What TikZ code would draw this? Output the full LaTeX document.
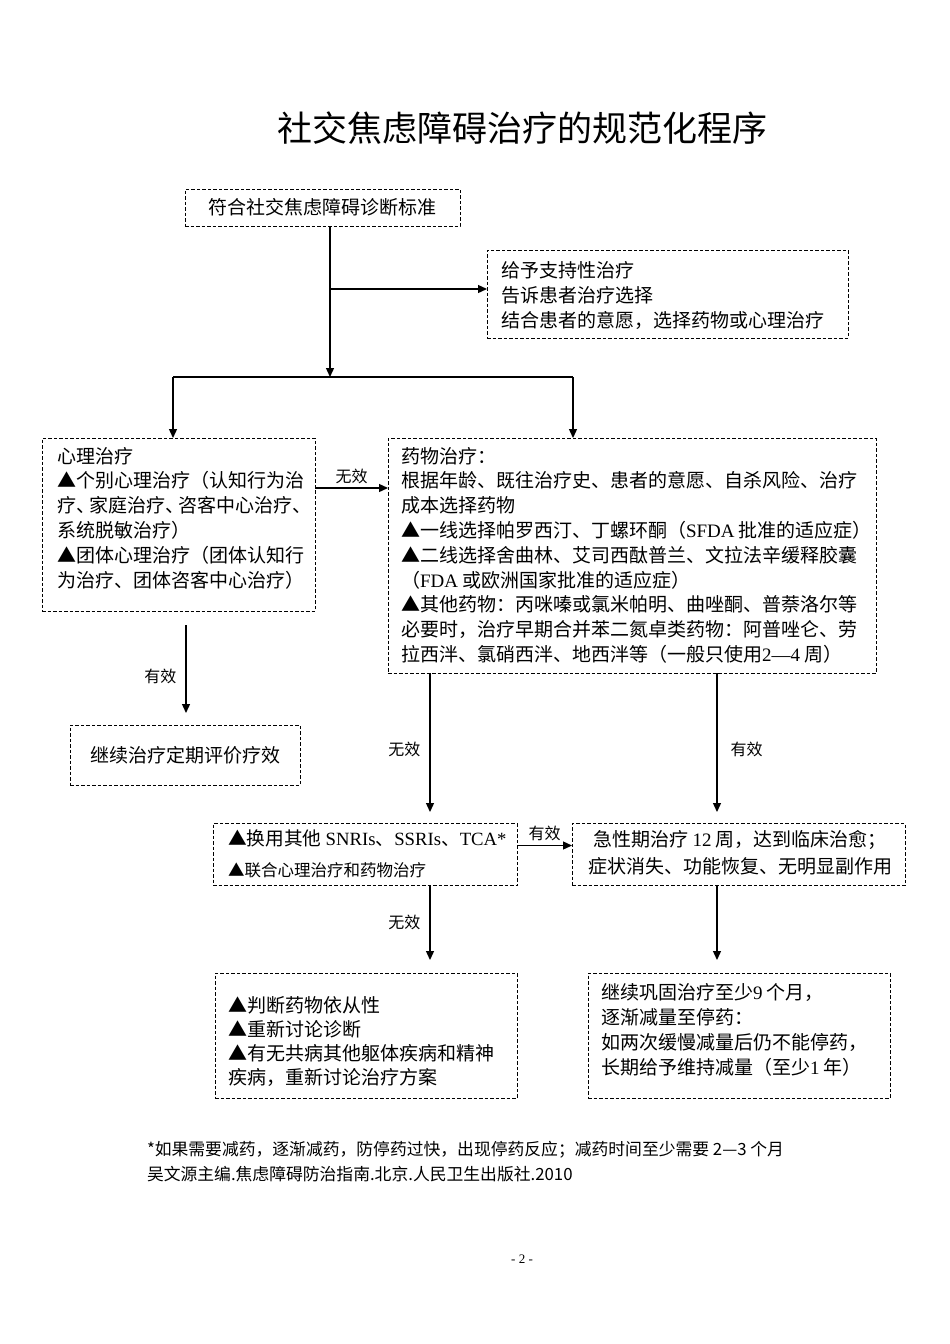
\documentclass[tikz,border=0pt]{standalone}
\usepackage{fontspec}
\setmainfont{Liberation Serif}
\newfontfamily\cjk{Noto Sans CJK SC}
\usetikzlibrary{arrows.meta}
\newcommand\tri{▲}
\newcommand\latn[1]{{\rmfamily #1}}
\newcommand\pk{\kern-6pt\relax}
\begin{document}
\begin{tikzpicture}[x=1pt,y=-1pt,
  box/.style={draw, line width=0.9pt, dash pattern=on 3.5pt off 2pt, inner sep=0pt, outer sep=0pt},
  txt/.style={inner sep=0pt, outer sep=0pt, align=left, anchor=north west, font=\cjk\fontsize{19}{24.8}\selectfont},
  small/.style={txt, font=\cjk\fontsize{16.5}{25}\selectfont},
  lbl/.style={font=\cjk\fontsize{16}{18}\selectfont, inner sep=0pt},
  arr/.style={line width=1.3pt, -{Triangle[length=9pt,width=8pt]}},
  ln/.style={line width=1.3pt}]
\useasboundingbox (0,0) rectangle (950,1344);
\fill[white] (0,0) rectangle (950,1344);

% title
\node[font=\cjk\fontsize{35}{40}\selectfont, inner sep=0pt] (title) at (522,128) {社交焦虑障碍治疗的规范化程序};

% boxes
\node[box, minimum width=275pt, minimum height=37pt, font=\cjk\fontsize{19}{22}\selectfont] (diag) at (322.5,207.5) {符合社交焦虑障碍诊断标准};
\node[box, minimum width=361pt, minimum height=88pt] (supp) at (667.5,294) {};
\node[box, minimum width=273pt, minimum height=173pt] (psy) at (178.5,524.5) {};
\node[box, minimum width=488pt, minimum height=235pt] (drug) at (632,555.5) {};
\node[box, minimum width=230pt, minimum height=60pt, font=\cjk\fontsize{19}{22}\selectfont] (cont) at (185,755) {继续治疗定期评价疗效};
\node[box, minimum width=304pt, minimum height=62pt] (sw) at (365,854.5) {};
\node[box, minimum width=333pt, minimum height=62pt] (acute) at (738.5,854.5) {};
\node[box, minimum width=302pt, minimum height=125pt] (judge) at (366,1035.5) {};
\node[box, minimum width=302pt, minimum height=125pt] (cons) at (739,1035.5) {};

% texts
\node[txt, font=\cjk\fontsize{19}{25}\selectfont] (supp-t) at (501,261) {给予支持性治疗\\告诉患者治疗选择\\结合患者的意愿，选择药物或心理治疗};
\node[txt] (psy-t) at (57,447) {心理治疗\\
\tri 个别心理治疗（认知行为治\\
疗、\pk 家庭治疗、\pk 咨客中心治疗、\\
系统脱敏治疗）\\
\tri 团体心理治疗（团体认知行\\
为治疗、团体咨客中心治疗）};
\node[txt] (drug-t) at (401,447) {药物治疗：\\
根据年龄、既往治疗史、患者的意愿、自杀风险、治疗\\
成本选择药物\\
\tri 一线选择帕罗西汀、丁螺环酮（\latn{SFDA} 批准的适应症）\\
\tri 二线选择舍曲林、艾司西酞普兰、文拉法辛缓释胶囊\\
（\latn{FDA} 或欧洲国家批准的适应症）\\
\tri 其他药物：丙咪嗪或氯米帕明、曲唑酮、普萘洛尔等\\
必要时，治疗早期合并苯二氮卓类药物：阿普唑仑、劳\\
拉西泮、氯硝西泮、地西泮等（一般只使用\latn{2—4} 周）};
\node[txt, font=\cjk\fontsize{18.7}{24}\selectfont] (sw-a) at (228,830) {\tri 换用其他 \latn{SNRIs}、\latn{SSRIs}、\latn{TCA*}};
\node[small] (sw-b) at (228,863) {\tri 联合心理治疗和药物治疗};
\node[txt, align=center, anchor=north, font=\cjk\fontsize{19}{27}\selectfont] (acute-t) at (740,830) {急性期治疗 \latn{12} 周，达到临床治愈；\\症状消失、功能恢复、无明显副作用};
\node[txt, font=\cjk\fontsize{19}{24}\selectfont] (judge-t) at (228,996) {\tri 判断药物依从性\\\tri 重新讨论诊断\\\tri 有无共病其他躯体疾病和精神\\疾病，重新讨论治疗方案};
\node[txt, font=\cjk\fontsize{19}{25}\selectfont] (cons-t) at (601,983) {继续巩固治疗至少\latn{9} 个月，\\逐渐减量至停药：\\如两次缓慢减量后仍不能停药，\\长期给予维持减量（至少\latn{1} 年）};

% footnotes
\node[txt, font=\cjk\fontsize{16.8}{25}\selectfont] (foot) at (147,1141) {*如果需要减药，逐渐减药，防停药过快，出现停药反应；减药时间至少需要 2—3 个月\\吴文源主编.焦虑障碍防治指南.北京.人民卫生出版社.2010};
\node[font=\fontsize{13}{15}\selectfont, inner sep=0pt] (pg) at (522,1259) {- 2 -};

% connectors
\coordinate (jt) at (330,377);
\coordinate (jl) at (173,377);
\coordinate (jr) at (573,377);
\coordinate (js) at (330,289);
\draw[arr] (diag.south -| jt) -- (jt);
\draw[ln] (jl) -- (jr);
\draw[arr] (jl) -- (psy.north -| jl);
\draw[arr] (jr) -- (drug.north -| jr);
\draw[arr] (js) -- (js -| supp.west);

\draw[arr] ([yshift=-50pt]psy.north east) -- ([yshift=-50pt]psy.north east -| drug.west) node[lbl, midway, above=4pt] {无效};

\coordinate (c1) at (186,625);
\coordinate (c2) at (186,713);
\draw[arr] (c1) -- (c2) node[lbl, pos=0.58, left=9pt] {有效};

\coordinate (d1) at (430,812);
\coordinate (d2) at (717,812);
\draw[arr] (drug.south -| d1) -- (d1) node[lbl, pos=0.55, left=9pt] {无效};
\draw[arr] (drug.south -| d2) -- (d2) node[lbl, pos=0.55, right=13pt] {有效};

\draw[arr] ([yshift=-22pt]sw.north east) -- ([yshift=-22pt]sw.north east -| acute.west) node[lbl, midway, above=4pt] {有效};

\coordinate (e1) at (430,960);
\coordinate (e2) at (717,960);
\draw[arr] (sw.south -| e1) -- (e1) node[lbl, pos=0.5, left=9pt] {无效};
\draw[arr] (acute.south -| e2) -- (e2);
\end{tikzpicture}
\end{document}
